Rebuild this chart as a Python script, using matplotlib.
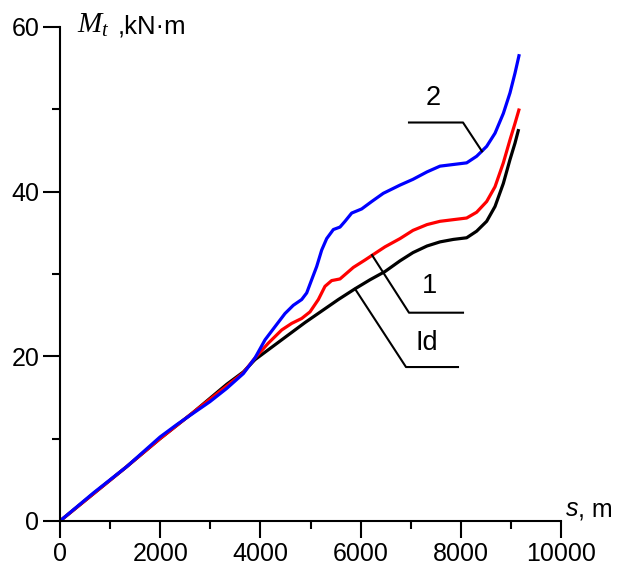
import matplotlib
matplotlib.use('Agg')
import matplotlib.pyplot as plt
from matplotlib.ticker import MultipleLocator

plt.rcParams['font.family'] = ['Liberation Sans', 'DejaVu Sans']
plt.rcParams['mathtext.fontset'] = 'custom'
plt.rcParams['mathtext.it'] = 'Liberation Serif:italic'
plt.rcParams['mathtext.rm'] = 'Liberation Serif'

# ---- data: torque M_t (kN*m) along the path s (m) ----
# Id - ideal curve
s_id = [0, 665, 1331, 1996, 2329, 2661, 2994, 3327, 3659, 3892, 4225, 4557, 4890,
        5223, 5556, 5888, 6188, 6487, 6787, 7046, 7325, 7585, 7850, 8117, 8316,
        8516, 8683, 8849, 8982, 9082, 9155]
m_id = [0, 3.3, 6.6, 10.0, 11.6, 13.2, 14.9, 16.6, 18.1, 19.6, 21.1, 22.6, 24.1,
        25.5, 26.9, 28.2, 29.3, 30.3, 31.6, 32.6, 33.4, 33.9, 34.2, 34.4, 35.2,
        36.4, 38.2, 41.0, 43.9, 45.9, 47.6]

# curve 1
s_1 = [0, 665, 1331, 1996, 2329, 2661, 2994, 3327, 3659, 3892, 4158, 4425, 4624,
       4824, 4990, 5157, 5289, 5422, 5589, 5722, 5855, 6088, 6287, 6487, 6787,
       7046, 7325, 7585, 7850, 8117, 8316, 8516, 8683, 8849, 8982, 9082, 9168]
m_1 = [0, 3.3, 6.6, 10.0, 11.6, 13.2, 14.8, 16.4, 18.0, 19.8, 21.6, 23.2, 24.0,
       24.6, 25.4, 26.9, 28.5, 29.2, 29.4, 30.1, 30.8, 31.7, 32.5, 33.3, 34.3,
       35.3, 36.0, 36.4, 36.6, 36.8, 37.5, 38.8, 40.6, 43.5, 46.3, 48.3, 50.1]

# curve 2
s_2 = [0, 665, 1331, 1663, 1996, 2329, 2661, 2994, 3327, 3659, 3892, 4092, 4291,
       4491, 4657, 4824, 4924, 5023, 5123, 5223, 5323, 5456, 5589, 5689, 5822,
       6021, 6221, 6453, 6787, 7046, 7325, 7585, 7850, 8117, 8316, 8516, 8683,
       8849, 8982, 9082, 9168]
m_2 = [0, 3.4, 6.6, 8.4, 10.2, 11.7, 13.1, 14.5, 16.1, 17.9, 19.8, 22.0, 23.6,
       25.2, 26.2, 26.9, 27.7, 29.3, 30.9, 32.9, 34.3, 35.4, 35.7, 36.4, 37.4,
       37.9, 38.8, 39.8, 40.8, 41.5, 42.4, 43.1, 43.3, 43.5, 44.3, 45.5, 47.1,
       49.5, 52.0, 54.4, 56.7]

# leader lines (s, M vertices) and curve labels
lead_2 = ([8423, 8044, 6966], [44.9, 48.4, 48.4])
lead_1 = ([6228, 6966, 8044], [32.3, 25.3, 25.3])
lead_id = ([5888, 6906, 7944], [28.2, 18.7, 18.7])
labels = [('2', 7445, 51.4), ('1', 7385, 28.5), ('Id', 7325, 21.6)]

fig = plt.figure(figsize=(6.24, 5.73), dpi=100)
ax = fig.add_axes([60 / 624, 1 - 521 / 573, 501 / 624, 494 / 573])

line_kw = dict(lw=2.3, solid_joinstyle='round', solid_capstyle='butt')
ax.plot(s_id, m_id, color='black', **line_kw)
ax.plot(s_1, m_1, color='#ff0000', **line_kw)
ax.plot(s_2, m_2, color='#0000ff', **line_kw)

for xs, ys in (lead_2, lead_1, lead_id):
    ax.plot(xs, ys, color='black', lw=1.5)
for txt, x, y in labels:
    ax.text(x, y, txt, fontsize=19.5, ha='center', va='center')

ax.set_xlim(0, 10000)
ax.set_ylim(0, 60)
ax.xaxis.set_major_locator(MultipleLocator(2000))
ax.xaxis.set_minor_locator(MultipleLocator(1000))
ax.yaxis.set_major_locator(MultipleLocator(20))
ax.yaxis.set_minor_locator(MultipleLocator(10))

for side in ('top', 'right'):
    ax.spines[side].set_visible(False)
for side in ('left', 'bottom'):
    ax.spines[side].set_linewidth(1.5)

ax.tick_params(which='major', direction='out', length=12, width=1.5,
               labelsize=18, pad=3)
ax.tick_params(which='minor', direction='out', length=6, width=1.5)

# axis titles
ax.text(340, 59.25, r'$M_t$', fontsize=21, ha='left', va='baseline', clip_on=False)
ax.text(1150, 59.25, ',kN·m', fontsize=18.5, ha='left', va='baseline', clip_on=False)
ax.text(10100, 0.6, 's', fontsize=18, style='italic', ha='left',
        va='baseline', clip_on=False)
ax.text(10330, 0.6, ', m', fontsize=18, ha='left', va='baseline', clip_on=False)

fig.savefig('out.png', dpi=100)
